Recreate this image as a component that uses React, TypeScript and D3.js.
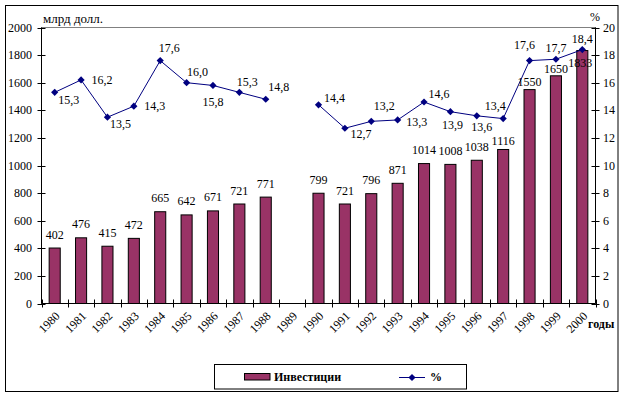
import React from "react";
import * as d3 from "d3";

const years = ["1980","1981","1982","1983","1984","1985","1986","1987","1988","1989","1990","1991","1992","1993","1994","1995","1996","1997","1998","1999","2000"];
const investments: (number | null)[] = [402,476,415,472,665,642,671,721,771,null,799,721,796,871,1014,1008,1038,1116,1550,1650,1833];
const percents: (number | null)[] = [15.3,16.2,13.5,14.3,17.6,16.0,15.8,15.3,14.8,null,14.4,12.7,13.2,13.3,14.6,13.9,13.6,13.4,17.6,17.7,18.4];
const leftTicks = [0,200,400,600,800,1000,1200,1400,1600,1800,2000];
const rightTicks = [0,2,4,6,8,10,12,14,16,18,20];

// label placement (layout only)
const pctDx = [14,21,13,21,9,11,0,8,13,0,16,16,13,19,15,2,5,-8,-5,0,0];
const pctDy = [8,0,7,0,-13,-11,17,-10,-12,0,-7,6,-15,2,-8,13,11,-13,-16,-11,-11];
const barDy = [-13.5,-13.5,-13.5,-13.5,-13.5,-13.5,-13.5,-13.5,-13.5,0,-13.5,-13.5,-13.5,-13.5,-13.5,-13.5,-13.5,-8,-7.5,-7,12.7];
const barDx = [0,0,0,0,0,0,0,0,0,0,0,0,0,0,0,0,0,0,0,0,-2];

const TXT: React.CSSProperties = { fontFamily: "Liberation Serif", fontSize: 12 };
const BAR = "#993366";
const LINE = "#000080";

const fmt = (v: number) => v.toFixed(1).replace(".", ",");

export default function App() {
  const W = 624, H = 397;
  const L = 41.5, R = 595.5, T = 27.5, B = 303.5;
  const x = d3.scaleBand<string>().domain(years).range([L, R]).padding(0);
  const yL = d3.scaleLinear().domain([0, 2000]).range([B, T]);
  const yR = d3.scaleLinear().domain([0, 20]).range([B, T]);
  const bw = x.bandwidth() * 0.42;
  const cx = (y: string) => (x(y) as number) + x.bandwidth() / 2;

  const pts = years.map((y, i) => ({ y, v: percents[i] }));
  const line = d3.line<{ y: string; v: number | null }>()
    .defined(d => d.v != null)
    .x(d => cx(d.y))
    .y(d => yR(d.v as number));

  const diamond = (px: number, py: number, s = 3.6) =>
    `M${px},${py - s}L${px + s},${py}L${px},${py + s}L${px - s},${py}Z`;

  const boundaries = years.map(y => x(y) as number).concat([R]);

  return (
    <svg width={W} height={H} style={{ position: "absolute", left: 0, top: 0, background: "#fff" }}>
      <rect x={0} y={0} width={W} height={H} fill="#fff" />
      <rect x={5.5} y={5.5} width={612.5} height={386} fill="none" stroke="#000" strokeWidth={1} />
      <rect x={L} y={T} width={R - L} height={B - T} fill="none" stroke="#808080" strokeWidth={1} />

      {years.map((y, i) => investments[i] == null ? null : (
        <rect key={"b" + y} x={cx(y) - bw / 2} y={yL(investments[i] as number)} width={bw}
          height={B - yL(investments[i] as number)} fill={BAR} stroke="#000" strokeWidth={1} />
      ))}

      <line x1={L} x2={L} y1={T} y2={B} stroke="#000" />
      <line x1={R} x2={R} y1={T} y2={B} stroke="#000" />
      <line x1={L} x2={R} y1={B} y2={B} stroke="#000" />
      {leftTicks.map(t => (
        <g key={"lt" + t}>
          <line x1={L - 4} x2={L + 4} y1={Math.round(yL(t)) + 0.5} y2={Math.round(yL(t)) + 0.5} stroke="#000" />
          <text style={TXT} x={32} y={yL(t)} textAnchor="end" dominantBaseline="central">{t}</text>
        </g>
      ))}
      {rightTicks.map(t => (
        <g key={"rt" + t}>
          <line x1={R - 4} x2={R + 4} y1={Math.round(yR(t)) + 0.5} y2={Math.round(yR(t)) + 0.5} stroke="#000" />
          <text style={TXT} x={603} y={yR(t)} textAnchor="start" dominantBaseline="central">{t}</text>
        </g>
      ))}
      {boundaries.map((b, i) => (
        <line key={"xt" + i} x1={Math.round(b) + 0.5} x2={Math.round(b) + 0.5} y1={B - 4} y2={B + 4} stroke="#000" />
      ))}
      {years.map(y => (
        <text style={TXT} key={"xl" + y} transform={`translate(${cx(y) + 3},${314}) rotate(-45)`} textAnchor="end" dominantBaseline="central">{y}</text>
      ))}

      <path d={line(pts) || ""} fill="none" stroke={LINE} strokeWidth={1} />
      {pts.map(p => p.v == null ? null : (
        <path key={"m" + p.y} d={diamond(cx(p.y), yR(p.v))} fill={LINE} />
      ))}

      {years.map((y, i) => investments[i] == null ? null : (
        <text style={TXT} key={"bl" + y} x={cx(y) + barDx[i]} y={yL(investments[i] as number) + barDy[i]} textAnchor="middle" dominantBaseline="central">{investments[i]}</text>
      ))}
      {years.map((y, i) => percents[i] == null ? null : (
        <text style={TXT} key={"pl" + y} x={cx(y) + pctDx[i]} y={yR(percents[i] as number) + pctDy[i]} textAnchor="middle" dominantBaseline="central">{fmt(percents[i] as number)}</text>
      ))}

      <text style={{ ...TXT, fontSize: 13 }} x={43} y={18} dominantBaseline="central">млрд долл.</text>
      <text style={TXT} x={590} y={17} dominantBaseline="central">%</text>
      <text style={{ ...TXT, fontWeight: "bold" }} x={588} y={324} dominantBaseline="central">годы</text>

      <rect x={214.5} y={364.5} width={252} height={24.5} fill="#fff" stroke="#000" />
      <rect x={244.5} y={373.5} width={25.5} height={6.5} fill={BAR} stroke="#000" />
      <text style={{ ...TXT, fontWeight: "bold" }} x={274} y={377} dominantBaseline="central">Инвестиции</text>
      <line x1={399} x2={425} y1={377.5} y2={377.5} stroke={LINE} />
      <path d={diamond(412, 377.5)} fill={LINE} />
      <text style={{ ...TXT, fontWeight: "bold" }} x={430} y={377} dominantBaseline="central">%</text>
    </svg>
  );
}
